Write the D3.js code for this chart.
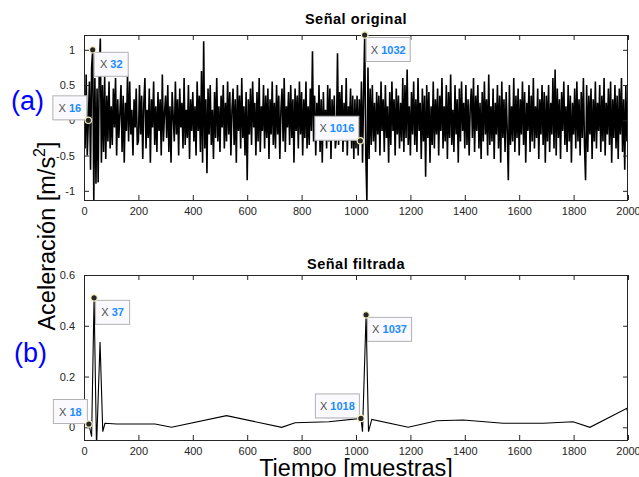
<!DOCTYPE html>
<html>
<head>
<meta charset="utf-8">
<script src="https://cdn.jsdelivr.net/npm/d3@7/dist/d3.min.js"></script>
<style>
  body { margin: 0; background: #fff; }
  svg { font-family: "Liberation Sans", Arial, sans-serif; }
  .tick-label { font-size: 11px; fill: #262626; }
</style>
</head>
<body>
<div id="chart"></div>
<script>
// raw signal, one value every 4 samples (0..2000)
const rawStep = 4;
const rawValues = [
  0.3,-0.4,0.65,-0.5,0.0,0.55,-0.7,0.75,1.0,-1.13,0.6,-0.9,0.45,-0.88,0.7,1.16,-0.6,0.5,-0.45,0.62,-0.55,0.35,-0.3,0.55,-0.4,
  0.2,-0.35,0.45,-0.1,0.6,-0.5,0.3,-0.25,0.1,0.5,-0.45,0.35,-0.6,0.25,-0.15,0.65,-0.3,0.55,-0.2,0.15,-0.5,0.3,-0.1,0.45,-0.35,
  -0.3,0.5,-0.2,0.35,-0.55,0.25,0.6,-0.4,0.15,-0.25,0.45,-0.6,0.3,-0.1,0.55,-0.35,0.2,-0.45,0.4,-0.15,0.3,-0.5,0.65,-0.3,0.1,
  0.35,-0.25,0.5,-0.45,0.2,-0.6,0.4,0.05,-0.3,0.55,-0.2,0.3,-0.5,0.45,-0.1,0.25,-0.4,0.6,-0.35,0.15,-0.25,0.5,-0.55,0.3,-0.15,
  0.4,-0.3,0.2,-0.5,0.55,-0.15,0.35,-0.45,0.7,-0.6,1.12,-0.4,0.3,-0.75,0.45,-0.2,0.5,-0.35,0.15,-0.55,0.4,-0.25,0.6,-0.3,0.2,
  -0.45,0.35,-0.1,0.5,-0.4,0.25,-0.3,0.55,-0.2,0.4,-0.5,0.15,0.45,-0.35,0.3,-0.6,0.5,-0.15,0.35,-0.4,0.6,-0.25,0.2,-0.5,0.4,
  -0.85,0.3,-0.2,0.45,-0.35,0.55,-0.1,0.25,-0.5,0.4,-0.3,0.6,-0.45,0.2,-0.15,0.5,-0.4,0.35,-0.25,0.45,-0.55,0.3,-0.2,0.55,-0.35,
  0.25,-0.4,0.5,-0.2,0.35,-0.55,0.15,0.45,-0.3,0.6,-0.45,0.2,-0.1,0.4,-0.35,0.5,-0.25,0.3,-0.6,0.45,-0.15,0.35,-0.4,0.55,-0.2,
  0.4,-0.5,0.3,-0.25,0.55,-0.4,0.2,-0.35,0.45,-0.15,0.98,-0.3,0.35,-0.5,0.25,-0.2,0.5,-0.45,0.3,-0.6,0.4,-0.25,0.15,-0.4,0.5,
  -0.3,0.45,-0.55,0.3,-0.2,0.35,-0.4,-0.25,0.95,-0.35,0.4,-0.15,0.5,-0.45,0.25,-0.3,0.6,-0.5,0.2,-0.1,0.45,-0.4,0.35,-0.55,0.3,
  -0.4,0.35,-0.5,0.3,-0.29,0.55,-0.6,0.4,1.21,-0.5,-1.13,0.75,-0.55,0.45,-0.35,0.5,-0.3,0.25,-0.45,0.4,-0.2,0.35,-0.5,0.55,-0.15,
  0.3,-0.45,0.5,-0.25,0.2,-0.6,0.4,-0.35,0.55,-0.15,0.3,-0.5,0.45,-0.2,0.35,-0.4,0.25,-0.3,0.6,-0.45,0.5,-0.25,0.72,-0.35,0.2,
  -0.5,0.4,-0.2,0.55,-0.35,0.3,-0.45,0.6,-0.15,0.25,-0.55,0.45,-0.3,0.35,-0.8,0.5,-0.25,0.4,-0.6,0.2,-0.35,0.55,-0.4,0.3,-0.2,
  0.45,-0.5,0.35,-0.15,0.6,-0.4,0.2,-0.3,0.5,-0.55,0.4,-0.25,0.65,-0.35,0.15,-0.45,0.5,-0.2,0.3,-0.6,0.45,-0.3,0.55,-0.15,0.25,
  -0.4,0.5,-0.35,0.3,-0.5,0.2,0.45,-0.25,0.6,-0.45,0.35,-0.15,0.5,-0.4,0.25,-0.55,0.4,-0.3,0.55,-0.2,0.3,-0.5,0.65,-0.35,0.2,
  -0.3,0.45,-0.55,0.25,-0.2,0.5,-0.4,0.35,-0.6,0.55,-0.25,0.3,-0.45,0.4,-0.15,-0.85,0.5,-0.35,0.2,-0.3,0.6,-0.45,0.35,-0.25,0.45,
  -0.5,0.3,-0.2,0.55,-0.35,0.4,-0.6,0.25,-0.15,0.5,-0.45,0.35,-0.3,0.6,-0.4,0.2,-0.25,0.45,-0.55,0.3,-0.2,0.5,-0.35,0.4,-0.6,
  0.35,-0.3,0.5,-0.45,0.25,-0.2,0.6,-0.4,0.72,-0.5,0.45,-0.25,0.3,-0.55,0.4,-0.15,0.55,-0.35,0.2,-0.45,0.5,-0.3,0.35,-0.6,0.25,
  -0.2,0.45,-0.4,0.55,-0.3,0.3,-0.5,0.4,-0.25,0.6,-0.35,-0.85,0.5,-0.45,0.35,-0.2,0.45,-0.55,0.3,-0.3,0.55,-0.4,0.25,-0.15,0.5,
  -0.45,0.35,-0.3,0.6,-0.5,0.25,-0.2,0.45,-0.35,0.55,-0.6,0.3,-0.25,0.5,-0.4,0.35,-0.55,0.45,-0.2,0.6,-0.45,0.3,-0.7,0.5,-0.3,
  0.1
];

// filtered signal, breakpoints (sample, value)
const filtX = [0, 18, 28, 37, 46, 59, 69, 77, 120, 261, 322, 524, 727, 776, 900, 1018, 1024, 1037, 1046, 1058, 1192, 1297, 1394, 1541, 1688, 1798, 1860, 1996, 2000];
const filtY = [0.02, 0.013, -0.037, 0.51, -0.08, 0.336, -0.017, 0.016, 0.013, 0.013, 0.0, 0.046, 0.0, 0.018, 0.022, 0.035, -0.017, 0.443, -0.017, 0.031, 0.0, 0.026, 0.029, 0.016, 0.016, 0.022, 0.0, 0.075, 0.05];

const xTicks = [0, 200, 400, 600, 800, 1000, 1200, 1400, 1600, 1800, 2000];
const rawYTicks = [-1, -0.5, 0, 0.5, 1];
const filtYTicks = [0, 0.2, 0.4, 0.6];
const rawTips = [16, 32, 1016, 1032];
const filtTips = [18, 37, 1018, 1037];

const width = 639, height = 477;
const svg = d3.select('#chart').append('svg')
  .attr('width', width).attr('height', height);

const rawData = rawValues.map((v, i) => [i * rawStep, v]);
const filtData = filtX.map((x, i) => [x, filtY[i]]);

function valueAt(data, x) {
  const p = data.find(d => d[0] === x);
  return p ? p[1] : 0;
}

function styleAxis(a) {
  a.select('.domain').remove();
  a.attr('font-family', null).attr('font-size', null);
  a.selectAll('text').attr('class', 'tick-label');
  a.selectAll('line').attr('stroke', '#262626');
}

function drawPanel(opts) {
  const { top, bottom, yDomain, yTicks, data, title, titleY, lineWidth, tips, tipSide } = opts;
  const left = 84, right = 628;
  const x = d3.scaleLinear().domain([0, 2000]).range([left, right]);
  const y = d3.scaleLinear().domain(yDomain).range([bottom, top]);
  const g = svg.append('g');

  const clipId = 'clip' + top;
  svg.append('clipPath').attr('id', clipId).append('rect')
    .attr('x', left).attr('y', top).attr('width', right - left).attr('height', bottom - top);

  g.append('path').datum(data)
    .attr('clip-path', `url(#${clipId})`)
    .attr('fill', 'none').attr('stroke', '#000').attr('stroke-width', lineWidth)
    .attr('stroke-linejoin', 'miter')
    .attr('d', d3.line().x(d => x(d[0])).y(d => y(d[1])));

  // box
  g.append('rect').attr('x', left + 0.5).attr('y', top + 0.5)
    .attr('width', right - left - 1).attr('height', bottom - top)
    .attr('fill', 'none').attr('stroke', '#262626').attr('stroke-width', 1);

  // ticks point inwards on all four sides
  g.append('g').attr('transform', `translate(0,${bottom})`)
    .call(d3.axisBottom(x).tickValues(xTicks).tickSizeInner(-5).tickSizeOuter(0)
      .tickPadding(7).tickFormat(d => String(d)))
    .call(styleAxis);
  g.append('g').attr('transform', `translate(0,${top})`)
    .call(d3.axisTop(x).tickValues(xTicks).tickSizeInner(-5).tickSizeOuter(0).tickFormat(''))
    .call(styleAxis);
  g.append('g').attr('transform', `translate(${left},0)`)
    .call(d3.axisLeft(y).tickValues(yTicks).tickSizeInner(-5).tickSizeOuter(0)
      .tickPadding(9).tickFormat(d => String(d)))
    .call(styleAxis);
  g.append('g').attr('transform', `translate(${right},0)`)
    .call(d3.axisRight(y).tickValues(yTicks).tickSizeInner(-5).tickSizeOuter(0).tickFormat(''))
    .call(styleAxis);

  g.append('text').attr('x', (left + right) / 2).attr('y', titleY)
    .attr('text-anchor', 'middle').attr('font-weight', 'bold').attr('font-size', 14.5)
    .attr('letter-spacing', 0.5).attr('fill', '#000').text(title);

  // data tips
  tips.forEach((t, i) => {
    const px = x(t), py = y(valueAt(data, t));
    const w = String(t).length > 2 ? 44 : 34, h = 24;
    const onRight = tipSide[i] === 'right';
    const bx = onRight ? px + 1 : px - w - 2;
    const by = onRight ? py + 2 : py - h - 1;
    const tg = g.append('g');
    tg.append('rect').attr('x', bx + 1).attr('y', by + 1).attr('width', w).attr('height', h)
      .attr('fill', 'rgba(0,0,0,0.12)');
    tg.append('rect').attr('x', bx + 0.5).attr('y', by + 0.5).attr('width', w).attr('height', h)
      .attr('fill', '#f9f9fe').attr('stroke', '#b4b4b4').attr('stroke-width', 1);
    const txt = tg.append('text').attr('x', bx + w / 2 + 0.5).attr('y', by + h / 2 + 4.5)
      .attr('text-anchor', 'middle').attr('font-size', 11);
    txt.append('tspan').attr('fill', '#505050').text('X ');
    txt.append('tspan').attr('fill', '#1a8cff').attr('font-weight', 'bold').text(t);
    tg.append('circle').attr('cx', px).attr('cy', py).attr('r', 3.2)
      .attr('fill', '#262626').attr('stroke', '#f3f0c0').attr('stroke-width', 1.2);
  });
}

drawPanel({
  top: 35, bottom: 200, yDomain: [-1.13, 1.21], yTicks: rawYTicks,
  data: rawData, title: 'Señal original', titleY: 24, lineWidth: 1.6, tips: rawTips,
  tipSide: ['left', 'right', 'left', 'right']
});
drawPanel({
  top: 275, bottom: 440, yDomain: [-0.05, 0.6], yTicks: filtYTicks,
  data: filtData, title: 'Señal filtrada', titleY: 269, lineWidth: 1.1, tips: filtTips,
  tipSide: ['left', 'right', 'left', 'right']
});

// axis titles
const yLab = svg.append('text')
  .attr('transform', 'translate(55,236) rotate(-90)')
  .attr('text-anchor', 'middle').attr('font-size', 23.5).attr('fill', '#000');
yLab.append('tspan').text('Aceleración [m/s');
yLab.append('tspan').attr('font-size', 16).attr('dy', -10).text('2');
yLab.append('tspan').attr('dy', 10).text(']');

svg.append('text').attr('x', 356).attr('y', 476)
  .attr('text-anchor', 'middle').attr('font-size', 23.5).attr('fill', '#000')
  .text('Tiempo [muestras]');

// panel letters
svg.append('text').attr('x', 11).attr('y', 110).attr('font-size', 27).attr('fill', '#0000ff').text('(a)');
svg.append('text').attr('x', 14).attr('y', 362).attr('font-size', 27).attr('fill', '#0000ff').text('(b)');
</script>
</body>
</html>
